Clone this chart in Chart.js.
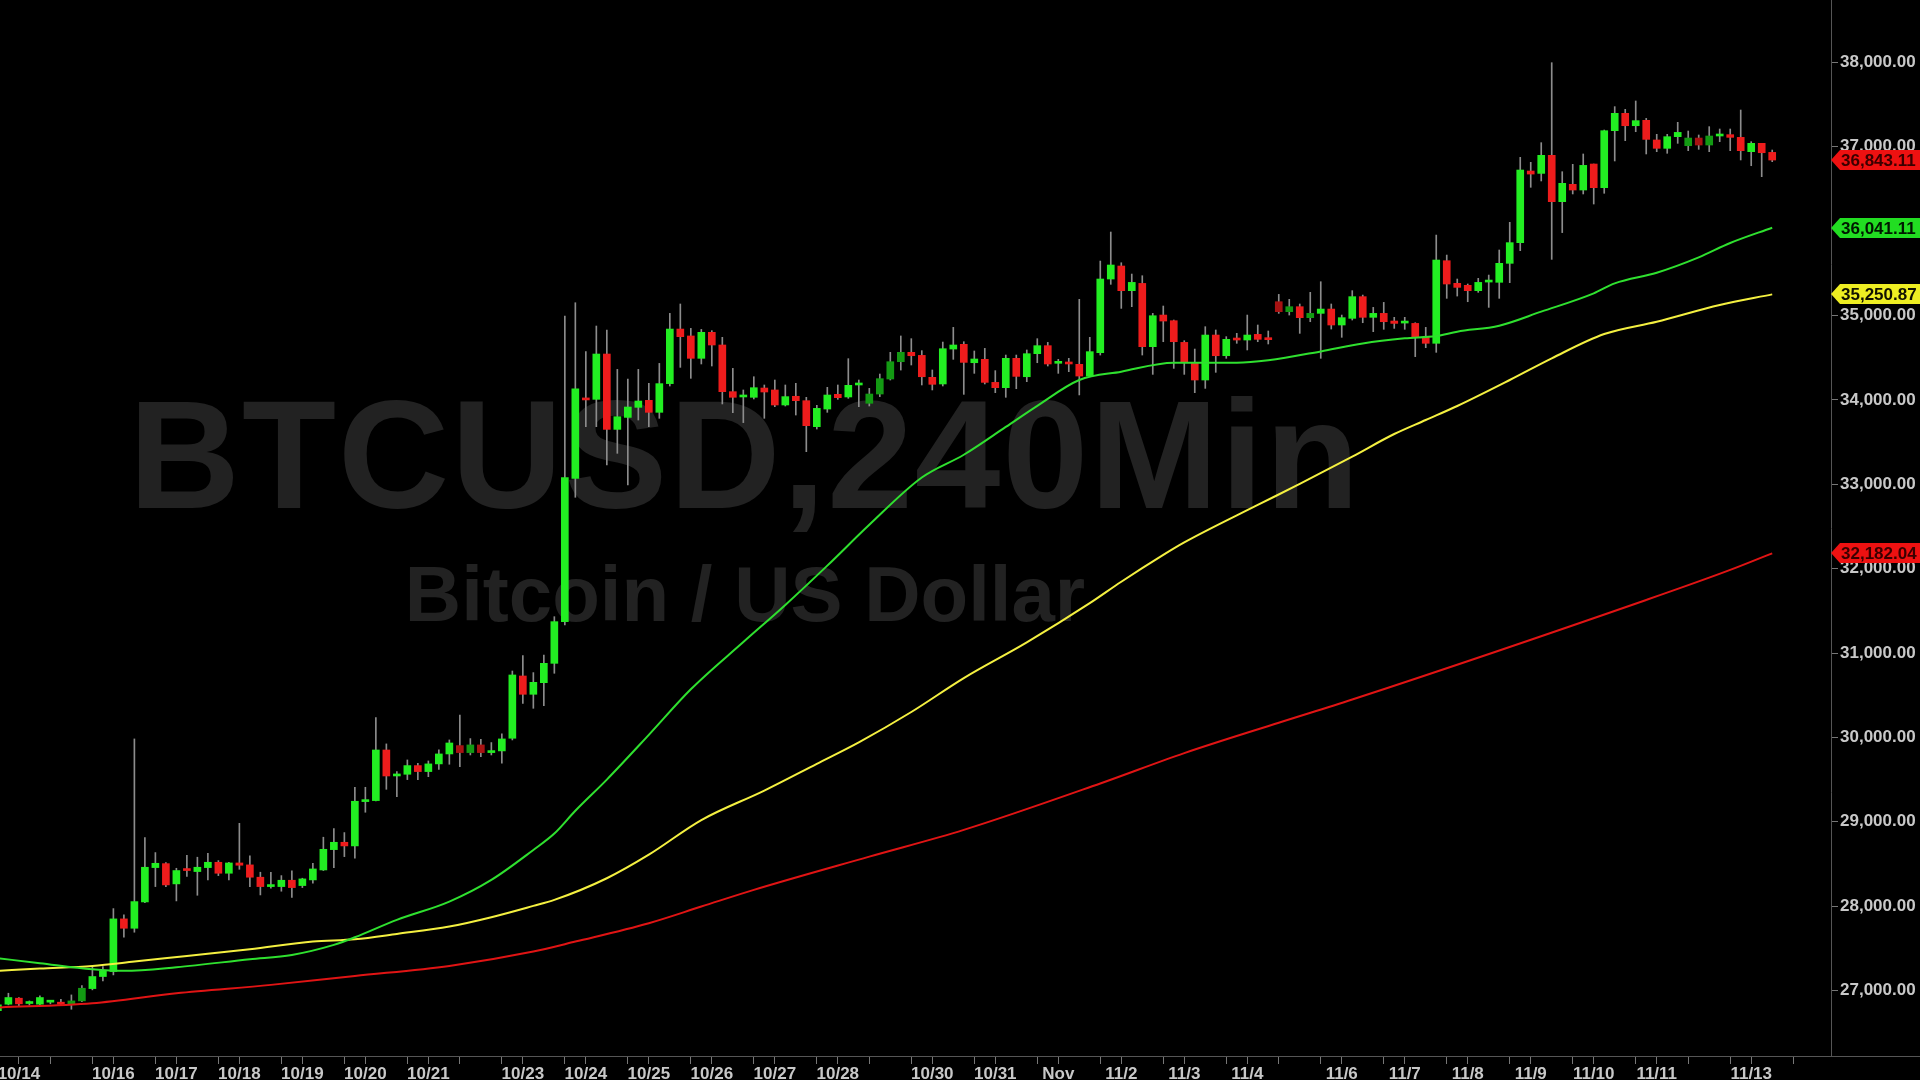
<!DOCTYPE html>
<html><head><meta charset="utf-8">
<script src="https://cdn.jsdelivr.net/npm/chart.js@4.4.0/dist/chart.umd.min.js"></script>
<style>
html,body{margin:0;padding:0;background:#000;width:1920px;height:1080px;overflow:hidden}
.wm{position:absolute;left:0;width:1490px;text-align:center;font-family:"Liberation Sans",Arial,sans-serif;font-weight:bold;color:#222222;white-space:nowrap;z-index:0}
#wm1{font-size:154px;line-height:154px;top:378px;letter-spacing:2px}
#wm2{font-size:78px;line-height:78px;top:555px}
canvas{position:absolute;left:0;top:0;z-index:1}
</style></head><body>
<div class="wm" id="wm1">BTCUSD,240Min</div>
<div class="wm" id="wm2">Bitcoin / US Dollar</div>
<canvas id="c" width="1920" height="1080"></canvas>
<script>
// ---- candle data (240 min bars, index 0..169) ----
const opens = [26760,26838,26909,26846,26838,26862,26862,26838,26877,27023,27166,27225,27849,27738,28050,28457,28504,28264,28426,28410,28457,28520,28390,28512,28489,28343,28232,28232,28307,28244,28311,28429,28670,28757,28714,29239,29251,29851,29543,29563,29666,29595,29686,29804,29903,29820,29911,29820,29840,29990,30728,30511,30649,30878,31372,33071,34011,34007,34544,33651,33793,33912,33995,33853,34193,34840,34758,34493,34801,34651,34098,34035,34031,34141,34118,33940,34043,33991,33683,33892,34066,34035,34177,33960,34070,34248,34453,34564,34528,34268,34189,34603,34659,34441,34481,34208,34145,34493,34275,34548,34643,34434,34449,34422,34283,34560,35433,35587,35295,35381,34631,35006,34939,34682,34445,34236,34769,34524,34730,34710,34777,34722,35164,35046,35105,34975,35026,35077,34888,34967,35224,34979,35026,34935,34911,34907,34742,34671,35650,35382,35358,35295,35397,35394,35619,35864,36713,36685,36899,36350,36555,36488,36796,36516,37191,37397,37250,37314,37081,36982,37120,37013,37104,37021,37128,37144,37112,36942,37041,36934];
const highs = [26850,26968,26917,26877,26937,26877,26897,26948,27059,27284,27284,27971,27896,29982,28813,28635,28516,28449,28603,28580,28627,28540,28520,28982,28595,28402,28402,28362,28418,28331,28508,28817,28919,28872,29409,29409,30235,29923,29595,29733,29693,29721,29852,29970,30266,29986,29978,29939,30041,30787,30969,30768,30977,31431,34994,35152,34572,34876,34829,34362,34248,34362,34197,34433,35026,35137,34848,34836,34821,34742,34374,34118,34275,34177,34236,34177,34197,34031,33936,34149,34177,34489,34236,34137,34307,34564,34758,34726,34584,34355,34686,34860,34690,34580,34611,34347,34532,34532,34592,34726,34682,34481,34493,35192,34742,35646,35990,35626,35492,35472,35026,35113,34947,34702,34603,34868,34829,34750,34789,35006,34888,34817,35251,35192,35137,35275,35401,35137,35006,35295,35243,35097,35156,34979,34979,34915,34860,35954,35717,35433,35374,35441,35480,35777,36105,36875,36816,37049,37997,36705,36792,36915,36796,37199,37476,37444,37543,37337,37148,37148,37290,37187,37140,37239,37211,37211,37436,37061,37041,36962];
const lows = [26730,26830,26818,26826,26830,26842,26822,26778,26869,27008,27114,27185,27632,27691,28042,28232,28232,28062,28351,28129,28311,28362,28311,28437,28232,28133,28212,28177,28105,28220,28271,28422,28457,28587,28568,29113,29247,29385,29298,29500,29500,29535,29622,29682,29654,29792,29773,29792,29694,29970,30404,30345,30377,30760,31333,32846,33683,33683,33229,33367,32992,33762,33683,33782,34165,34386,34256,34426,34402,33952,33849,33731,34011,33782,33920,33928,33821,33387,33655,33853,34007,34019,33920,33928,34039,34236,34354,34414,34177,34118,34165,34481,34066,34315,34189,34086,34031,34133,34216,34441,34402,34315,34335,34059,34276,34532,35370,35085,35105,34532,34303,34690,34374,34303,34086,34137,34327,34493,34671,34592,34690,34663,35026,35006,34789,34927,34493,34840,34742,34947,34915,34809,34837,34848,34837,34513,34619,34564,35204,35231,35164,35275,35097,35204,35390,35769,36520,36595,35666,35983,36441,36441,36322,36449,36832,37073,37179,36915,36942,36923,37041,36954,36970,36942,37061,36954,36844,36776,36646,36824];
const closes = [26830,26917,26842,26850,26917,26866,26838,26877,27027,27166,27233,27849,27738,28054,28461,28508,28252,28422,28422,28461,28520,28390,28512,28485,28343,28232,28240,28307,28220,28323,28441,28674,28757,28714,29243,29259,29851,29543,29567,29666,29595,29686,29804,29934,29820,29911,29820,29832,29982,30740,30511,30653,30878,31372,33079,34130,34000,34544,33651,33801,33916,33987,33853,34193,34840,34750,34493,34801,34651,34098,34031,34039,34145,34094,33940,34039,33991,33695,33900,34058,34027,34173,34181,34070,34252,34453,34564,34524,34275,34185,34607,34651,34445,34485,34208,34145,34493,34279,34548,34643,34426,34438,34426,34283,34572,35433,35599,35295,35393,34631,34998,34935,34690,34445,34236,34769,34524,34718,34710,34769,34718,34714,35046,35105,34975,35026,35077,34888,34975,35224,34979,35026,34927,34907,34927,34742,34671,35658,35374,35334,35295,35393,35401,35619,35864,36725,36677,36899,36350,36567,36488,36780,36516,37191,37397,37250,37310,37088,36982,37120,37171,37104,37021,37128,37140,37112,36954,37041,36930,36843.11];
const dimCandles = [7,8,44,45,46,83,84,85,86,122,123,125,161,162,163];

// ---- moving averages (sampled bar index -> value) ----
const greenIdx = [0,4,9,12,17,24,28,32,34,38,43,47,51,53,55,58,62,66,71,75,79,83,88,92,96,99,103,107,112,118,121,126,130,134,137,139,143,147,152,154,158,162,165,169];
const greenVal = [27383,27324,27252,27233,27276,27371,27422,27541,27631,27837,28054,28311,28666,28860,29130,29500,30030,30570,31130,31570,32036,32520,33080,33350,33680,33930,34236,34335,34440,34441,34470,34575,34670,34730,34757,34809,34880,35046,35263,35382,35508,35690,35860,36041.11];
const yellowIdx = [0,4,9,13,18,24,30,34,38,43,47,51,53,58,62,67,73,78,82,87,92,98,104,107,111,113,120,124,129,133,136,139,144,148,153,158,164,169];
const yellowVal = [27233,27260,27292,27343,27410,27489,27580,27608,27671,27758,27869,28003,28074,28331,28610,29020,29370,29687,29941,30301,30703,31126,31591,31845,32163,32311,32755,33004,33328,33596,33762,33928,34236,34493,34781,34927,35125,35250.87];
const redIdx = [0,9,17,26,34,43,51,55,62,67,72,83,92,105,113,122,129,157,165,169];
const redVal = [26798,26850,26968,27067,27173,27292,27462,27580,27798,27995,28193,28587,28904,29454,29814,30174,30449,31629,31985,32182.04];

// ---- axis ticks ----
const dayLabels = ['10/14','10/16','10/17','10/18','10/19','10/20','10/21','10/23','10/24','10/25','10/26','10/27','10/28','10/30','10/31','Nov','11/2','11/3','11/4','11/6','11/7','11/8','11/9','11/10','11/11','11/13'];
const dayLabelIdx = [2,11,17,23,29,35,41,50,56,62,68,74,80,89,95,101,107,113,119,128,134,140,146,152,158,167];
const unlabeledDayIdx = [5,44,83,122,161,171];
const yTicks = [27000,28000,29000,30000,31000,32000,33000,34000,35000,37000,38000];

const FONT = '"Liberation Sans", Arial, sans-serif';
Chart.defaults.font.family = FONT;

const fmt = v => v.toLocaleString('en-US',{minimumFractionDigits:2,maximumFractionDigits:2});
const labelMap = {};
dayLabelIdx.forEach((v,k)=>{ labelMap[v] = dayLabels[k]; });
const allXTicks = [...new Set([...dayLabelIdx, ...dayLabelIdx.map(v=>v-2), ...unlabeledDayIdx])].filter(v=>v>=0).sort((a,b)=>a-b);

const idx = opens.map((_,i)=>i);
const candleColor = i => {
  const up = closes[i] >= opens[i];
  const dim = dimCandles.includes(i);
  return up ? (dim ? '#139a13' : '#22ee22') : (dim ? '#a81212' : '#ee1c1c');
};

const tags = [
  {v: closes[closes.length-1], bg:'#ee1111', fg:'#3a0000'},
  {v: greenVal[greenVal.length-1], bg:'#22dd22', fg:'#001800'},
  {v: yellowVal[yellowVal.length-1], bg:'#eeee22', fg:'#111100'},
  {v: redVal[redVal.length-1], bg:'#ee1111', fg:'#3a0000'}
];

const tagPlugin = {
  id:'tags',
  afterDraw(chart){
    const ctx = chart.ctx, ys = chart.scales.y, area = chart.chartArea;
    const x0 = area.right;
    ctx.save();
    ctx.strokeStyle = '#555'; ctx.lineWidth = 1;
    ctx.beginPath(); ctx.moveTo(x0, area.bottom+0.5); ctx.lineTo(1920, area.bottom+0.5); ctx.stroke();
    tags.forEach(t=>{
      const py = Math.round(ys.getPixelForValue(t.v));
      ctx.beginPath();
      ctx.moveTo(x0, py);
      ctx.lineTo(x0+9, py-10);
      ctx.lineTo(1920, py-10);
      ctx.lineTo(1920, py+10);
      ctx.lineTo(x0+9, py+10);
      ctx.closePath();
      ctx.fillStyle = t.bg; ctx.fill();
      ctx.fillStyle = t.fg;
      ctx.font = 'bold 17px ' + FONT;
      ctx.textBaseline = 'middle'; ctx.textAlign = 'left';
      ctx.fillText(fmt(t.v), x0+10, py+1);
    });
    ctx.restore();
  }
};

new Chart(document.getElementById('c'), {
  type:'bar',
  data:{
    datasets:[
      {type:'line', label:'MA green', data: greenIdx.map((x,k)=>({x, y: greenVal[k]})), borderColor:'#2fe02f', borderWidth:2, pointRadius:0, cubicInterpolationMode:'monotone', order:0},
      {type:'line', label:'MA yellow', data: yellowIdx.map((x,k)=>({x, y: yellowVal[k]})), borderColor:'#f4f040', borderWidth:2, pointRadius:0, cubicInterpolationMode:'monotone', order:0},
      {type:'line', label:'MA red', data: redIdx.map((x,k)=>({x, y: redVal[k]})), borderColor:'#e01414', borderWidth:2, pointRadius:0, cubicInterpolationMode:'monotone', order:0},
      {type:'bar', label:'body', data: idx.map(i=>({x:i, y:[opens[i], closes[i]]})), backgroundColor: idx.map(candleColor), barThickness:7, grouped:false, minBarLength:2, order:1},
      {type:'bar', label:'wick', data: idx.map(i=>({x:i, y:[lows[i], highs[i]]})), backgroundColor:'#8c8c8c', barThickness:1, grouped:false, order:2}
    ]
  },
  options:{
    responsive:false, animation:false, devicePixelRatio:1, events:[],
    layout:{padding:0},
    plugins:{legend:{display:false}, tooltip:{enabled:false}},
    scales:{
      x:{
        type:'linear', min:0.2, max:174.6, offset:false,
        grid:{drawOnChartArea:false, drawTicks:true, tickLength:8, color:'#777', offset:false},
        border:{display:true, color:'#555'},
        ticks:{autoSkip:false, maxRotation:0, minRotation:0, padding:0, color:'#c8c8c8', font:{size:17, weight:'bold'},
          callback: v => (labelMap[v] !== undefined ? labelMap[v] : '')},
        afterBuildTicks: s => { s.ticks = allXTicks.map(v=>({value:v})); },
        afterFit: s => { s.height = 24; s.paddingLeft = 0; s.paddingRight = 0; }
      },
      y:{
        type:'linear', position:'right', min:26224, max:38740,
        grid:{drawOnChartArea:false, drawTicks:true, tickLength:7, color:'#777'},
        border:{display:true, color:'#555'},
        ticks:{padding:2, color:'#c8c8c8', font:{size:17, weight:'bold'}, callback: v => fmt(v)},
        afterBuildTicks: s => { s.ticks = yTicks.map(v=>({value:v})); },
        afterFit: s => { s.width = 89; s.paddingTop = 0; s.paddingBottom = 0; }
      }
    }
  },
  plugins:[tagPlugin]
});
</script>
</body></html>
